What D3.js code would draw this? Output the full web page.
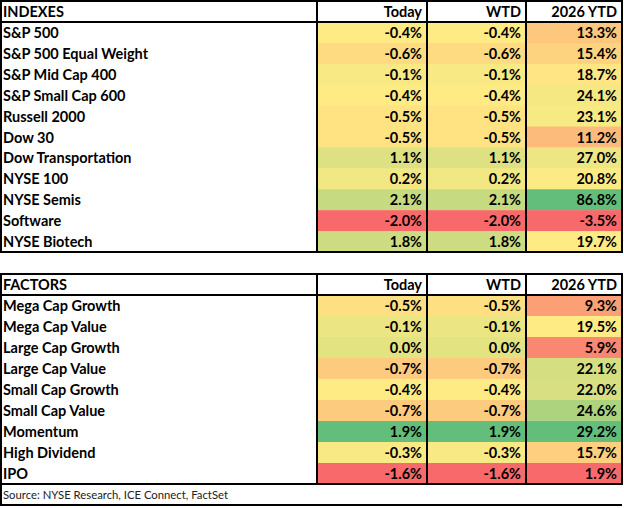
<!DOCTYPE html>
<html>
<head>
<meta charset="utf-8">
<script src="https://cdn.jsdelivr.net/npm/d3@7"></script>
<style>
  body { margin: 0; background: #fff; }
  svg { display: block; }
  text { font-family: Lato, "Open Sans", sans-serif; }
</style>
</head>
<body>
<svg id="chart" width="624" height="508"></svg>
<script>
// Table data
var columns = ['Today', 'WTD', '2026 YTD'];

var indexNames = ['S&P 500', 'S&P 500 Equal Weight', 'S&P Mid Cap 400', 'S&P Small Cap 600',
  'Russell 2000', 'Dow 30', 'Dow Transportation', 'NYSE 100', 'NYSE Semis', 'Software', 'NYSE Biotech'];
var indexToday = [-0.4, -0.6, -0.1, -0.4, -0.5, -0.5, 1.1, 0.2, 2.1, -2.0, 1.8];
var indexWtd = [-0.4, -0.6, -0.1, -0.4, -0.5, -0.5, 1.1, 0.2, 2.1, -2.0, 1.8];
var indexYtd = [13.3, 15.4, 18.7, 24.1, 23.1, 11.2, 27.0, 20.8, 86.8, -3.5, 19.7];

var factorNames = ['Mega Cap Growth', 'Mega Cap Value', 'Large Cap Growth', 'Large Cap Value',
  'Small Cap Growth', 'Small Cap Value', 'Momentum', 'High Dividend', 'IPO'];
var factorToday = [-0.5, -0.1, 0.0, -0.7, -0.4, -0.7, 1.9, -0.3, -1.6];
var factorWtd = [-0.5, -0.1, 0.0, -0.7, -0.4, -0.7, 1.9, -0.3, -1.6];
var factorYtd = [9.3, 19.5, 5.9, 22.1, 22.0, 24.6, 29.2, 15.7, 1.9];

var sourceText = 'Source: NYSE Research, ICE Connect, FactSet';

// colour scale anchors (min / mid / max) per column
var indexDayDomain = [-2.0, -0.4, 6.4];
var heatColors = ['#F8696B', '#FFEB84', '#63BE7B'];

// layout
var colEdges = [0, 316, 426, 525, 621];
var fontSize = 14.5;
var svg = d3.select('#chart');

function heat(values, domain) {
  domain = domain || [d3.min(values), d3.median(values), d3.max(values)];
  return d3.scaleLinear().domain(domain).range(heatColors).clamp(true);
}

function fmt(v) {
  return v.toFixed(1) + '%';
}

function drawTable(top, bottom, title, names, series, domains) {
  var g = svg.append('g');
  var headH = 22;
  var y = d3.scaleBand().domain(names).range([top + headH, bottom]);

  // cells
  series.forEach(function(vals, ci) {
    var color = heat(vals, domains[ci]);
    var x0 = colEdges[ci + 1], x1 = colEdges[ci + 2];
    g.selectAll('.c' + ci)
      .data(vals)
      .enter()
      .append('rect')
      .attr('x', x0)
      .attr('y', function(d, i) { return y(names[i]); })
      .attr('width', x1 - x0)
      .attr('height', y.bandwidth() + 0.5)
      .attr('fill', function(d) { return color(d); });
    g.selectAll('.t' + ci)
      .data(vals)
      .enter()
      .append('text')
      .attr('x', x1 - 4)
      .attr('y', function(d, i) { return y(names[i]) + y.bandwidth() / 2 + 5.5; })
      .attr('text-anchor', 'end')
      .attr('font-size', fontSize)
      .attr('font-weight', 700)
      .attr('fill', '#000')
      .text(fmt);
  });

  // names
  g.selectAll('.name')
    .data(names)
    .enter()
    .append('text')
    .attr('x', 3)
    .attr('y', function(d) { return y(d) + y.bandwidth() / 2 + 5.5; })
    .attr('font-size', fontSize)
    .attr('font-weight', 700)
    .attr('fill', '#000')
    .text(function(d) { return d; });

  // header
  g.append('text')
    .attr('x', 3)
    .attr('y', top + headH / 2 + 6)
    .attr('font-size', fontSize)
    .attr('font-weight', 700)
    .text(title);
  g.selectAll('.head')
    .data(columns)
    .enter()
    .append('text')
    .attr('x', function(d, i) { return colEdges[i + 2] - 4; })
    .attr('y', top + headH / 2 + 6)
    .attr('text-anchor', 'end')
    .attr('font-size', fontSize)
    .attr('font-weight', 700)
    .text(function(d) { return d; });

  // borders
  var line = function(x1, y1, x2, y2) {
    g.append('line')
      .attr('x1', x1).attr('y1', y1).attr('x2', x2).attr('y2', y2)
      .attr('stroke', '#000').attr('stroke-width', 2);
  };
  line(0, top + 1, 622, top + 1);
  line(0, top + headH, 622, top + headH);
  line(0, bottom, 622, bottom);
  colEdges.forEach(function(x) { line(x + 1, top, x + 1, bottom + 1); });
  return g;
}

drawTable(0, 252, 'INDEXES', indexNames, [indexToday, indexWtd, indexYtd], [indexDayDomain, indexDayDomain, null]);
drawTable(273, 484, 'FACTORS', factorNames, [factorToday, factorWtd, factorYtd], [null, null, null]);

// source row
svg.append('text')
  .attr('x', 3)
  .attr('y', 499)
  .attr('font-size', 11.3)
  .attr('fill', '#222')
  .text(sourceText);
svg.append('line')
  .attr('x1', 1).attr('y1', 484).attr('x2', 1).attr('y2', 506)
  .attr('stroke', '#000').attr('stroke-width', 2);
svg.append('line')
  .attr('x1', 0).attr('y1', 505).attr('x2', 622).attr('y2', 505)
  .attr('stroke', '#000').attr('stroke-width', 2);
</script>
</body>
</html>
